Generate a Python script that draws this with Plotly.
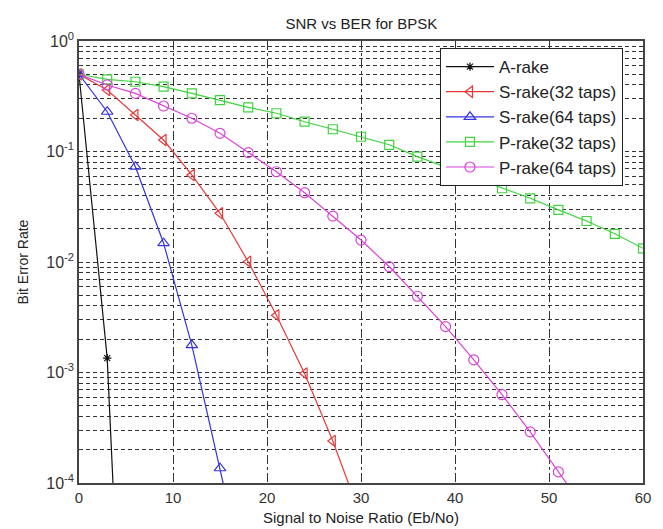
import plotly.graph_objects as go

# ---- data ----
snr_a = [0, 3, 6]
ber_a_rake = [0.5, 1.35e-3, 4e-9]

snr_s32 = [0, 3, 6, 9, 12, 15, 18, 21, 24, 27, 30]
ber_s_rake32 = [0.5, 0.36, 0.214, 0.127, 0.0613, 0.0276, 0.01006, 3.3e-3, 9.8e-4, 2.4e-4, 4.9e-5]

snr_s64 = [0, 3, 6, 9, 12, 15, 18]
ber_s_rake64 = [0.5, 0.229, 0.0729, 0.0148, 1.77e-3, 1.36e-4, 1e-5]

snr_p32 = [0, 3, 6, 9, 12, 15, 18, 21, 24, 27, 30, 33, 36, 39, 42, 45, 48, 51, 54, 57, 60]
ber_p_rake32 = [0.5, 0.45, 0.428, 0.386, 0.336, 0.292, 0.251, 0.222, 0.186, 0.159, 0.136,
                0.115, 0.0898, 0.072, 0.0584, 0.0465, 0.0377, 0.0296, 0.0235, 0.018, 0.0133]

snr_p64 = [0, 3, 6, 9, 12, 15, 18, 21, 24, 27, 30, 33, 36, 39, 42, 45, 48, 51, 54]
ber_p_rake64 = [0.5, 0.40, 0.336, 0.258, 0.2, 0.146, 0.0977, 0.0656, 0.0424, 0.026, 0.0158,
                0.0091, 0.0049, 0.0026, 0.0013, 6.3e-4, 2.9e-4, 1.26e-4, 5.5e-5]

x_ticks = [0, 10, 20, 30, 40, 50, 60]
decades = [-4, -3, -2, -1, 0]

title_text = "SNR vs BER for BPSK"
x_title = "Signal to Noise Ratio (Eb/No)"
y_title = "Bit Error Rate"

series = [
    ("A-rake", snr_a, ber_a_rake, "#111111", "asterisk-open", 7),
    ("S-rake(32 taps)", snr_s32, ber_s_rake32, "#e83a3a", "triangle-left-open", 10),
    ("S-rake(64 taps)", snr_s64, ber_s_rake64, "#3434e0", "triangle-up-open", 10),
    ("P-rake(32 taps)", snr_p32, ber_p_rake32, "#3fd43f", "square-open", 9),
    ("P-rake(64 taps)", snr_p64, ber_p_rake64, "#d844d8", "circle-open", 10),
]

FONT = "Liberation Sans, Arial, sans-serif"

fig = go.Figure()
for name, xs, ys, col, sym, sz in series:
    fig.add_trace(go.Scatter(
        x=xs, y=ys, name=name, mode="lines+markers",
        line=dict(color=col, width=1.2),
        marker=dict(symbol=sym, size=sz, color=col, line=dict(color=col, width=1.2)),
    ))

# y gridlines at every 1..9 x decade, labels only at decades
y_vals, y_text = [], []
for d in decades:
    for k in range(1, 10):
        if d == 0 and k > 1:
            break
        y_vals.append(k * 10.0 ** d)
        y_text.append(f"10<sup>{d}</sup>" if k == 1 else "")

fig.update_layout(
    width=663, height=529,
    margin=dict(l=79, r=20, t=41, b=46),
    paper_bgcolor="white", plot_bgcolor="white",
    font=dict(family=FONT, size=15, color="#222222"),
    title=dict(text=title_text, x=0.545, xanchor="center", y=0.955, yanchor="middle",
               font=dict(family=FONT, size=15, color="#222222")),
    showlegend=True,
    legend=dict(x=0.64, xanchor="left", y=0.984, yanchor="top",
                bgcolor="white", bordercolor="#222222", borderwidth=1,
                font=dict(family=FONT, size=17, color="#222222"),
                tracegroupgap=0, itemwidth=48),
    xaxis=dict(
        range=[0, 60], tickvals=x_ticks, ticktext=[str(v) for v in x_ticks],
        showgrid=True, gridcolor="#333333", griddash="dashdot", gridwidth=1,
        showline=True, linecolor="#444444", linewidth=1.5, mirror=True,
        ticks="", zeroline=False, automargin=False,
        tickfont=dict(family=FONT, size=15, color="#333333"),
    ),
    yaxis=dict(
        type="log", range=[-4, 0], tickvals=y_vals, ticktext=y_text,
        showgrid=True, gridcolor="#333333", griddash="4px,3px", gridwidth=1,
        showline=True, linecolor="#444444", linewidth=1.5, mirror=True,
        ticks="", zeroline=False, automargin=False,
        title=dict(text=y_title, standoff=14,
                   font=dict(family=FONT, size=14, color="#222222")),
        tickfont=dict(family=FONT, size=16, color="#333333"),
    ),
    annotations=[dict(
        text=x_title, xref="paper", yref="paper", x=0.5, y=-0.078,
        xanchor="center", yanchor="middle", showarrow=False,
        font=dict(family=FONT, size=15, color="#222222"),
    )],
)

fig.write_html("out.html",
               config={"displayModeBar": False},
               post_script="document.body.style.margin='0';document.body.style.overflow='hidden';")
